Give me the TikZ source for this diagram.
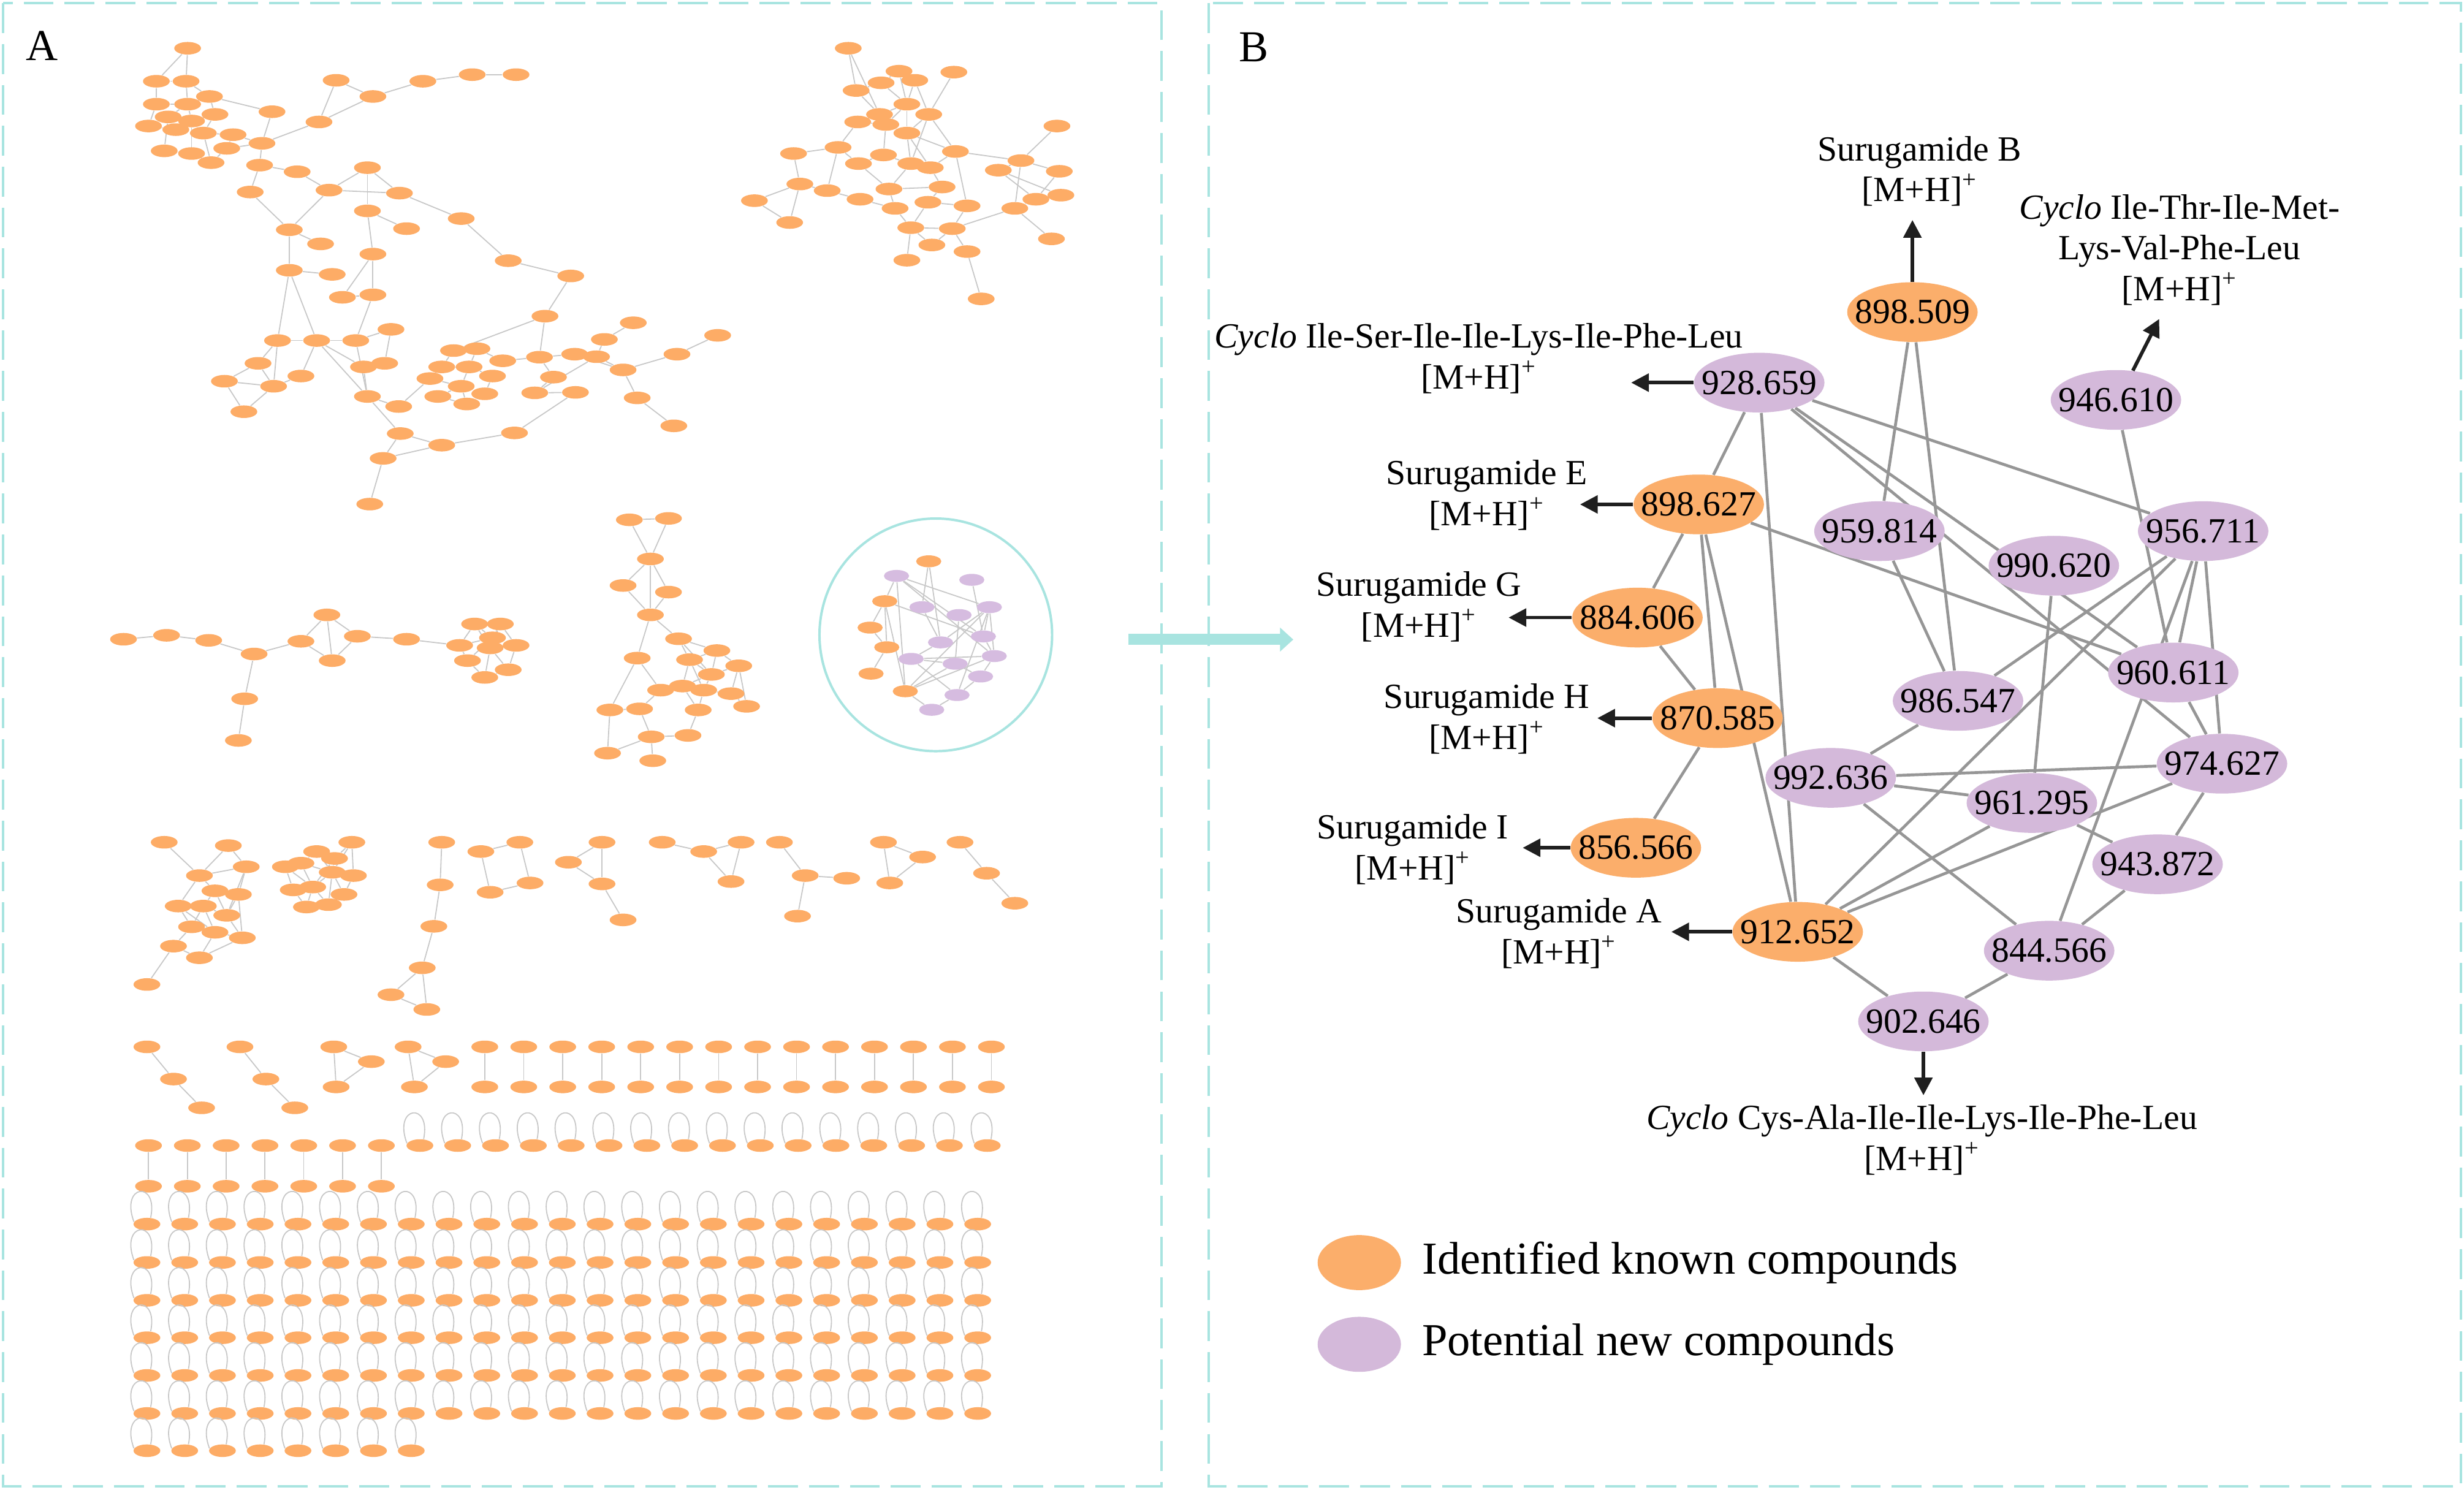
\documentclass[tikz,border=0pt]{standalone}
\usepackage{fontspec}
\setmainfont{Liberation Serif}
\usetikzlibrary{arrows.meta,shapes.geometric}
\pgfdeclarelayer{bg}
\pgfdeclarelayer{paper}
\pgfsetlayers{paper,bg,main}
\definecolor{orB}{RGB}{251,174,107}
\definecolor{puB}{RGB}{212,185,218}
\definecolor{edgeB}{RGB}{150,150,150}
\definecolor{tealc}{RGB}{168,228,224}
\definecolor{orA}{RGB}{253,172,102}
\definecolor{puA}{RGB}{214,188,224}
\definecolor{edgeA}{RGB}{200,200,200}
\newcommand{\MHion}{[M+H]\textsuperscript{+}}
\newcommand{\numlab}[1]{\makebox[0pt]{#1}}
\tikzset{
  bnode/.style={ellipse, minimum width=2.075cm, minimum height=0.95cm, inner sep=0pt, font=\fontsize{16}{18.5}\selectfont},
  known/.style={bnode, fill=orB},
  novel/.style={bnode, fill=puB},
  bedge/.style={draw=edgeB, line width=1.3pt},
  barrow/.style={draw=black!88, line width=1.6pt, -{Triangle[length=8pt,width=8pt]}},
  lbl/.style={align=center, font=\fontsize{16}{18.5}\selectfont, inner sep=0pt},
  anode/.style={ellipse, fill=orA, minimum width=0.425cm, minimum height=0.2cm, inner sep=0pt},
  apnode/.style={ellipse, fill=puA, minimum width=0.4cm, minimum height=0.19cm, inner sep=0pt},
  aonode/.style={ellipse, fill=orA, minimum width=0.4cm, minimum height=0.19cm, inner sep=0pt},
  aedge/.style={draw=edgeA, line width=0.5pt},
  panelb/.style={draw=tealc, line width=1.1pt, dash pattern=on 13.5pt off 5pt},
  legtext/.style={anchor=west, inner sep=0pt, font=\fontsize{20.7}{24}\selectfont},
}
\begin{document}
\begin{tikzpicture}[x=0.025cm,y=-0.025cm]
\useasboundingbox (0,0) rectangle (1568,948);
\begin{pgfonlayer}{paper}
\fill[white] (0,0) rectangle (1568,948);
\end{pgfonlayer}

% panel frames
\draw[panelb] (2,2) rectangle (739,946);
\draw[panelb] (769,2) rectangle (1566,946);
\node[inner sep=0pt, font=\fontsize{20}{24}\selectfont] (labA) at (26.6,29) {A};
\node[inner sep=0pt, font=\fontsize{20}{24}\selectfont] (labB) at (798,30) {B};

% ================= PANEL B =================
\node[known] (n898509) at (1217,198.6) {\numlab{898.509}};
\node[novel] (n928659) at (1119.5,243.5) {\numlab{928.659}};
\node[novel] (n946610) at (1346.5,254.5) {\numlab{946.610}};
\node[known] (n898627) at (1081,321) {\numlab{898.627}};
\node[novel] (n959814) at (1196,338) {\numlab{959.814}};
\node[novel] (n990620) at (1307,360) {\numlab{990.620}};
\node[novel] (n956711) at (1402,338) {\numlab{956.711}};
\node[known] (n884606) at (1042,393) {\numlab{884.606}};
\node[novel] (n960611) at (1383,428) {\numlab{960.611}};
\node[novel] (n986547) at (1246,446) {\numlab{986.547}};
\node[known] (n870585) at (1093,457) {\numlab{870.585}};
\node[novel] (n992636) at (1165,495) {\numlab{992.636}};
\node[novel] (n974627) at (1414,486) {\numlab{974.627}};
\node[novel] (n961295) at (1293,511) {\numlab{961.295}};
\node[novel] (n943872) at (1373,550) {\numlab{943.872}};
\node[known] (n856566) at (1041,539.5) {\numlab{856.566}};
\node[known] (n912652) at (1144,593) {\numlab{912.652}};
\node[novel] (n844566) at (1304,605) {\numlab{844.566}};
\node[novel] (n902646) at (1224,650) {\numlab{902.646}};

% mini copy inside the circle of panel A
\foreach \n/\x/\y in {898509/591.0/357.2, 898627/563.0/382.6, 884606/553.7/399.4, 870585/564.3/411.9, 856566/554.3/428.7, 912652/576.1/439.9}
  \node[aonode] (a\n) at (\x,\y) {};
\foreach \n/\x/\y in {928659/570.5/366.5, 946610/618.4/369.0, 959814/586.7/386.4, 956711/629.6/386.4, 990620/610.3/391.4, 960611/625.8/405.0, 986547/598.5/408.8, 974627/632.7/417.5, 992636/579.8/419.3, 961295/607.8/422.4, 943872/624.0/430.5, 844566/609.0/442.3, 902646/592.9/451.7}
  \node[apnode] (a\n) at (\x,\y) {};

\begin{pgfonlayer}{bg}
\foreach \u/\v in {898509/959814, 898509/986547, 928659/898627, 928659/912652, 928659/960611, 928659/974627, 928659/956711, 898627/884606, 898627/870585, 898627/912652, 898627/960611, 884606/870585, 870585/856566, 959814/986547, 946610/960611, 956711/960611, 956711/844566, 956711/974627, 956711/986547, 956711/912652, 990620/961295, 960611/974627, 992636/986547, 992636/974627, 992636/961295, 992636/844566, 912652/961295, 912652/974627, 912652/902646, 961295/943872, 974627/943872, 943872/844566, 844566/902646}
{
  \draw[bedge] (n\u) -- (n\v);
  \draw[aedge] (a\u) -- (a\v);
}
\end{pgfonlayer}

% annotation arrows
\coordinate (tB) at (1217,140);
\coordinate (tThr) at (1374,203);
\coordinate (tSer) at (1038,243.5);
\coordinate (tE) at (1005.5,321);
\coordinate (tG) at (960,393);
\coordinate (tH) at (1016.5,457);
\coordinate (tI) at (969,539.5);
\coordinate (tA) at (1063.6,593);
\coordinate (tCys) at (1224,697);
\draw[barrow] (n898509.north) -- (tB);
\draw[barrow] (n946610.60) -- (tThr);
\draw[barrow] (n928659.west) -- (tSer);
\draw[barrow] (n898627.west) -- (tE);
\draw[barrow] (n884606.west) -- (tG);
\draw[barrow] (n870585.west) -- (tH);
\draw[barrow] (n856566.west) -- (tI);
\draw[barrow] (n912652.west) -- (tA);
\draw[barrow] (n902646.south) -- (tCys);

% labels
\node[lbl] (lB) at (1221.5,109) {Surugamide B\\\MHion};
\node[lbl] (lThr) at (1387,159) {\textit{Cyclo} Ile-Thr-Ile-Met-\\Lys-Val-Phe-Leu\\\MHion};
\node[lbl] (lSer) at (941,228) {\textit{Cyclo} Ile-Ser-Ile-Ile-Lys-Ile-Phe-Leu\\\MHion};
\node[lbl] (lE) at (946,315) {Surugamide E\\\MHion};
\node[lbl] (lG) at (903,386) {Surugamide G\\\MHion};
\node[lbl] (lH) at (946,457.5) {Surugamide H\\\MHion};
\node[lbl] (lI) at (899,540.5) {Surugamide I\\\MHion};
\node[lbl] (lA) at (992,594) {Surugamide A\\\MHion};
\node[lbl] (lCys) at (1223,725.5) {\textit{Cyclo} Cys-Ala-Ile-Ile-Lys-Ile-Phe-Leu\\\MHion};

% legend
\node[ellipse, fill=orB, minimum width=1.325cm, minimum height=0.875cm, inner sep=0pt] (legK) at (865,803.5) {};
\node[legtext] (legKt) at (904.7,803.5) {Identified known compounds};
\node[ellipse, fill=puB, minimum width=1.325cm, minimum height=0.875cm, inner sep=0pt] (legN) at (865,855.5) {};
\node[legtext] (legNt) at (904.7,855.5) {Potential new compounds};

% ================= PANEL A =================
\draw[tealc, line width=1.1pt] (595.5,404) circle [radius=1.85cm];

% big component
\foreach \n/\x/\y in {c1/119.4/30.7, c2/99.5/51.7, c3/118.4/51.7, c4/133.3/61.4, c5/99.5/66.3, c6/119.4/66.3, c7/136.8/72.8, c8/94.5/80.2, c9/111.9/82.5, c10/129.4/84.7, c11/107.0/74.4, c12/121.9/77.0, c13/148.3/85.7, c14/104.5/96.0, c15/121.9/97.7, c16/134.3/103.5, c17/144.3/94.4, c18/166.7/91.2, c19/173.1/71.1, c20/203.0/77.6, c21/213.9/51.1, c22/237.3/61.4, c23/269.1/51.7, c24/300.5/47.5, c25/328.4/47.5, c26/165.2/105.1, c27/189.1/109.3, c28/159.2/122.2, c29/233.8/106.7, c30/209.4/121.0, c31/254.2/122.9, c32/233.8/134.2, c33/293.5/139.1, c34/323.4/165.9, c35/258.7/145.5, c36/184.1/146.2, c37/204.0/155.2, c38/237.3/161.7, c39/184.1/172.0, c40/211.4/174.6, c41/217.9/189.2, c42/237.3/187.6, c43/363.2/175.6, c44/346.8/201.2, c45/176.6/216.7, c46/201.5/216.7, c47/226.4/216.7, c48/248.8/209.6, c49/164.2/231.2, c50/142.8/242.6, c51/174.1/245.8, c52/191.5/239.3, c53/155.2/262.0, c54/231.3/233.5, c55/244.8/231.2, c56/233.8/252.3, c57/253.7/258.7, c58/288.6/223.1, c59/303.5/221.9, c60/281.1/233.5, c61/298.5/233.5, c62/273.6/240.9, c63/293.5/245.8, c64/313.4/239.3, c65/278.6/252.3, c66/297.0/257.1, c67/308.5/250.6, c68/319.9/229.6, c69/343.3/227.3, c70/352.2/240.0, c71/340.3/250.0, c72/365.7/225.4, c73/379.6/227.0, c74/384.6/216.0, c75/403.0/205.4, c76/396.5/235.4, c77/366.2/249.7, c78/405.5/253.2, c79/428.8/271.0, c80/430.8/225.4, c81/456.7/213.4, c82/254.7/275.9, c83/281.1/283.3, c84/327.4/275.5, c85/243.8/291.7, c86/235.3/320.8}
  \node[anode] (\n) at (\x,\y) {};

% top-right component
\foreach \n/\x/\y in {t1/539.8/30.7, t2/572.1/45.3, t3/607.0/45.9, t4/560.7/52.7, t5/582.1/51.1, t6/544.8/57.6, t7/577.1/66.3, t8/591.0/72.8, t9/559.7/72.8, t10/545.8/77.6, t11/563.7/79.2, t12/577.1/84.7, t13/672.6/80.2, t14/505.0/97.7, t15/533.3/93.8, t16/608.0/96.4, t17/546.3/104.1, t18/562.2/98.6, t19/579.6/104.1, t20/592.0/106.7, t21/649.7/102.2, t22/635.3/108.3, t23/674.1/109.0, t24/509.0/117.1, t25/526.4/121.3, t26/480.1/127.7, t27/565.7/120.3, t28/599.5/119.0, t29/547.3/126.8, t30/569.6/132.6, t31/590.5/128.7, t32/615.4/131.0, t33/645.8/132.6, t34/659.2/126.8, t35/675.1/124.2, t36/502.5/141.6, t37/579.6/144.9, t38/606.0/145.5, t39/593.0/155.9, t40/615.4/160.1, t41/669.1/152.0, t42/577.1/165.6, t43/624.4/190.2}
  \node[anode] (\n) at (\x,\y) {};

% middle-left chain
\foreach \n/\x/\y in {m1/78.6/406.8, m2/106.0/404.3, m3/132.8/407.5, m4/161.7/416.2, m5/191.5/408.1, m6/208.0/391.3, m7/227.4/404.9, m8/211.4/420.4, m9/258.7/406.8, m10/155.7/444.7, m11/151.7/471.2, m12/302.0/397.1, m13/318.4/397.1, m14/292.5/410.7, m15/311.9/412.3, m16/328.4/410.7, m17/297.5/420.4, m18/323.4/426.2, m19/308.5/431.1, m20/313.4/405.9}
  \node[anode] (\n) at (\x,\y) {};

% middle vertical component
\foreach \n/\x/\y in {v1/400.5/330.8, v2/425.4/329.9, v3/413.9/355.7, v4/396.5/372.6, v5/425.4/376.8, v6/413.9/391.3, v7/431.8/406.5, v8/405.5/418.8, v9/456.2/414.0, v10/438.8/419.8, v11/470.1/423.7, v12/452.7/429.2, v13/420.4/439.2, v14/434.3/436.6, v15/447.8/439.2, v16/465.2/441.4, v17/475.1/449.5, v18/388.1/451.8, v19/407.0/451.1, v20/444.3/451.8, v21/414.4/468.9, v22/437.8/468.0, v23/386.6/479.3, v24/415.4/484.1}
  \node[anode] (\n) at (\x,\y) {};

% lower clusters
\foreach \n/\x/\y in {b1/104.5/536.0, b2/145.3/538.1, b3/126.9/557.2, b4/156.7/551.6, b5/136.8/566.9, b6/151.7/569.2, b7/113.4/576.6, b8/129.4/576.6, b9/144.3/582.5, b10/121.9/589.8, b11/136.8/593.3, b12/154.2/596.8, b13/110.4/602.1, b14/126.9/609.5, b15/93.5/626.5,
  g1/223.9/536.0, g2/201.5/541.9, g3/212.9/546.3, g4/191.5/549.3, g5/181.6/551.6, g6/211.4/555.1, g7/224.9/557.2, g8/186.6/566.3, g9/199.0/564.5, g10/218.9/569.2, g11/195.0/577.2, g12/209.0/575.7,
  h1/281.1/536.0, h2/280.1/563.1, h3/276.1/589.5, h4/268.7/615.9, h5/248.8/633.0, h6/271.6/642.4,
  s1/306.0/541.9, s2/330.8/536.0, s3/337.3/561.9, s4/311.9/567.8,
  u1/383.1/536.0, u2/361.7/548.7, u3/383.1/562.5, u4/396.5/585.4,
  w1/421.4/536.0, w2/447.8/541.9, w3/471.6/536.0, w4/465.2/561.0,
  x1/496.0/536.0, x2/512.4/557.2, x3/538.8/558.9, x4/507.5/583.0,
  y1/562.2/536.0, y2/587.1/545.4, y3/566.2/561.9,
  z1/610.9/536.0, z2/627.8/555.7, z3/645.8/574.8,
  q1/93.5/666.2, q2/110.4/686.7, q3/128.3/705.0, q4/152.7/666.2, q5/169.2/686.7, q6/187.6/705.0, q7/212.4/666.2, q8/236.3/675.6, q9/213.9/691.7, q10/259.7/666.2, q11/283.6/675.6, q12/263.7/691.7}
  \node[anode] (\n) at (\x,\y) {};

\begin{pgfonlayer}{bg}
\foreach \a/\b in {c1/c2, c1/c3, c2/c3, c2/c5, c3/c4, c3/c6, c4/c6, c4/c7, c5/c6, c5/c8, c6/c11, c6/c12, c7/c12, c7/c10, c8/c9, c9/c11, c9/c12, c10/c12, c10/c13, c11/c14, c12/c15, c13/c17, c14/c15, c15/c16, c16/c17, c17/c18, c13/c18, c18/c19, c18/c20, c20/c21, c21/c22, c22/c23, c23/c24, c24/c25, c20/c22, c18/c26, c26/c27, c26/c28, c27/c30, c30/c29, c29/c31, c30/c31, c29/c32, c31/c33, c33/c34, c34/c43, c43/c44, c32/c35, c32/c38, c30/c36, c28/c36, c36/c37, c36/c39, c38/c42, c38/c41, c39/c40, c39/c45, c41/c42, c42/c47, c44/c69, c44/c58, c45/c46, c45/c49, c45/c51, c46/c47, c46/c52, c46/c54, c46/c56, c47/c48, c48/c55, c49/c50, c49/c51, c50/c51, c50/c53, c51/c53, c52/c51, c54/c55, c54/c56, c56/c57, c56/c82, c57/c62, c58/c59, c58/c60, c59/c61, c60/c61, c60/c62, c61/c63, c62/c63, c63/c65, c63/c66, c64/c67, c65/c66, c66/c67, c61/c64, c59/c68, c68/c69, c69/c70, c70/c71, c69/c72, c72/c73, c73/c74, c73/c76, c74/c75, c72/c76, c76/c80, c80/c81, c76/c78, c78/c79, c71/c77, c77/c84, c84/c83, c83/c82, c82/c85, c83/c85, c85/c86, c39/c46, c47/c56, c71/c73, c10/c16, c4/c19,
  t1/t6, t1/t9, t2/t4, t2/t5, t2/t7, t3/t8, t4/t6, t4/t7, t5/t7, t5/t8, t6/t9, t7/t9, t7/t11, t7/t12, t8/t12, t8/t16, t9/t10, t9/t11, t10/t11, t10/t15, t11/t12, t11/t18, t12/t19, t12/t16, t13/t21, t14/t15, t14/t24, t15/t25, t15/t17, t16/t20, t16/t21, t16/t32, t17/t18, t17/t27, t18/t19, t19/t20, t19/t27, t20/t28, t21/t22, t21/t23, t21/t33, t22/t34, t22/t35, t23/t34, t24/t25, t24/t26, t24/t36, t25/t29, t26/t36, t27/t28, t27/t30, t28/t31, t29/t30, t30/t37, t31/t32, t31/t37, t32/t38, t33/t34, t33/t41, t34/t35, t37/t38, t37/t39, t37/t42, t38/t39, t38/t40, t38/t33, t40/t43, t8/t19, t12/t20,
  m1/m2, m2/m3, m3/m4, m4/m5, m4/m10, m10/m11, m5/m6, m5/m8, m6/m7, m6/m8, m7/m8, m7/m9, m9/m14, m12/m13, m12/m14, m12/m15, m13/m16, m13/m20, m14/m17, m15/m16, m15/m19, m16/m18, m17/m19, m18/m19, m20/m14, m20/m17, m12/m20, m15/m18, m13/m15,
  v1/v2, v1/v3, v2/v3, v3/v4, v3/v5, v3/v6, v4/v6, v5/v6, v6/v7, v6/v8, v7/v9, v7/v10, v7/v12, v8/v13, v8/v18, v9/v11, v9/v10, v10/v12, v10/v14, v11/v12, v11/v16, v12/v15, v12/v14, v13/v14, v14/v15, v15/v16, v16/v17, v15/v20, v13/v19, v14/v20, v18/v19, v19/v21, v20/v22, v21/v22, v21/v24, v18/v23, v23/v21, v11/v17, v10/v15, v9/v12,
  b1/b3, b2/b3, b2/b4, b3/b4, b3/b5, b3/b7, b4/b6, b5/b6, b5/b8, b5/b9, b6/b9, b7/b8, b7/b10, b8/b9, b8/b11, b9/b12, b10/b11, b10/b13, b11/b12, b11/b14, b12/b14, b13/b15, b13/b14, b7/b11, b8/b10, b6/b12, b4/b9,
  g1/g3, g1/g7, g2/g3, g2/g4, g3/g6, g4/g5, g4/g6, g5/g8, g6/g7, g6/g9, g6/g10, g7/g10, g8/g9, g8/g11, g9/g12, g10/g12, g11/g12, g4/g9, g2/g6, g3/g9, g5/g9, g9/g11, g6/g12, g1/g6,
  h1/h2, h2/h3, h3/h4, h4/h5, h4/h6, h5/h6,
  s1/s2, s1/s4, s2/s3, s3/s4, u1/u2, u1/u3, u2/u3, u3/u4, w1/w2, w2/w3, w2/w4, w3/w4, x1/x2, x2/x3, x2/x4, y1/y2, y1/y3, y2/y3, z1/z2, z2/z3,
  q1/q2, q2/q3, q4/q5, q5/q6, q7/q8, q7/q9, q8/q9, q10/q11, q10/q12, q11/q12}
  \draw[aedge] (\a) -- (\b);
\end{pgfonlayer}

% vertical pairs, row 2
\foreach \i in {0,...,13}{
  \node[anode] (P2t-\i) at ({308.5+24.8*\i},666.2) {};
  \node[anode] (P2b-\i) at ({308.5+24.8*\i},691.7) {};
  \draw[aedge] (P2t-\i) -- (P2b-\i);
}
% vertical pairs, row 3
\foreach \i in {0,...,6}{
  \node[anode] (P3t-\i) at ({94.5+24.7*\i},729) {};
  \node[anode] (P3b-\i) at ({94.5+24.7*\i},754.9) {};
  \draw[aedge] (P3t-\i) -- (P3b-\i);
}
% self-loop nodes, row 3
\foreach \i in {0,...,15}{
  \node[anode] (L3-\i) at ({267.2+24.07*\i},729) {};
  \draw[aedge] (L3-\i.170) .. controls +(-9,-24) and +(5,-24) .. (L3-\i.60);
}
% self-loop rows
\foreach \r/\yy in {4/779,5/803.4,6/827.5,7/851.3,8/875.3,9/899.5}{
  \foreach \i in {0,...,22}{
    \node[anode] (L\r-\i) at ({93.5+24.03*\i},\yy) {};
    \draw[aedge] (L\r-\i.170) .. controls +(-9,-24) and +(5,-24) .. (L\r-\i.60);
  }
}
\foreach \i in {0,...,7}{
  \node[anode] (L10-\i) at ({93.5+24.03*\i},923.2) {};
  \draw[aedge] (L10-\i.170) .. controls +(-9,-24) and +(5,-24) .. (L10-\i.60);
}

% connecting arrow between panels
\coordinate (ta1) at (718,407);
\coordinate (ta2) at (823,407);
\draw[tealc, line width=5pt, -{Triangle[length=6pt,width=10.5pt]}] (ta1) -- (ta2);

\end{tikzpicture}
\end{document}
